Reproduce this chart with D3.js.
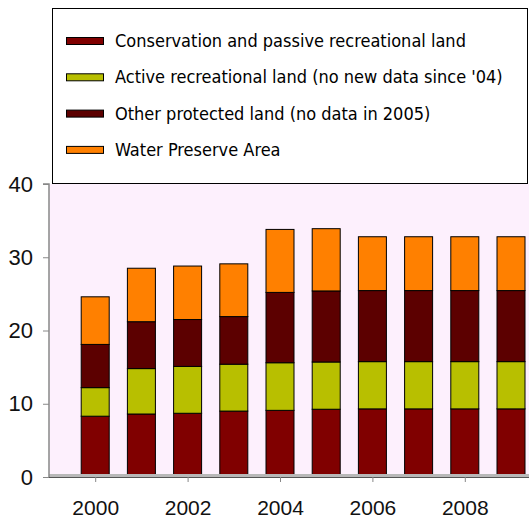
<!DOCTYPE html>
<html><head><meta charset="utf-8">
<script src="https://cdn.jsdelivr.net/npm/d3@7"></script>
<style>html,body{margin:0;padding:0;background:#fff}svg{display:block}</style>
</head><body>
<script>
const years = [2000,2001,2002,2003,2004,2005,2006,2007,2008,2009];
const conservation = [8.3,8.6,8.7,9.0,9.1,9.25,9.3,9.3,9.3,9.3];
const activeRec = [3.9,6.2,6.4,6.4,6.5,6.45,6.45,6.45,6.45,6.45];
const otherProtected = [5.9,6.4,6.4,6.5,9.6,9.7,9.7,9.7,9.7,9.7];
const waterPreserve = [6.5,7.3,7.3,7.2,8.6,8.5,7.35,7.35,7.35,7.35];
const seriesNames = ["Conservation and passive recreational land","Active recreational land (no new data since '04)","Other protected land (no data in 2005)","Water Preserve Area"];
const seriesColors = ["#800000","#b8bf00","#5c0000","#ff8000"];
const yTicks = [0,10,20,30,40];
const xTickYears = [2000,2002,2004,2006,2008];

const W=529,H=522;
const svg=d3.select("body").append("svg").attr("width",W).attr("height",H);
const plotL=49, plotR=529, plotT=184, plotB=477;
const y=d3.scaleLinear().domain([0,40]).range([plotB,plotT]);
const x=d3.scaleLinear().domain([1999,2009]).range([plotL,plotL+10*46.2]);
const barW=28;

svg.append("rect").attr("x",plotL).attr("y",plotT).attr("width",plotR-plotL).attr("height",plotB-plotT).attr("fill","#fdf0fd");

const table=years.map((yr,i)=>({year:yr,s0:conservation[i],s1:activeRec[i],s2:otherProtected[i],s3:waterPreserve[i]}));
const stack=d3.stack().keys(["s0","s1","s2","s3"])(table);
stack.forEach((layer,k)=>{
  svg.append("g").selectAll("rect").data(layer).join("rect")
    .attr("x",d=>x(d.data.year)-barW/2).attr("width",barW)
    .attr("y",d=>y(d[1])).attr("height",d=>y(d[0])-y(d[1]))
    .attr("fill",seriesColors[k]).attr("stroke","#000").attr("stroke-width",1);
});

// bottom axis
svg.append("rect").attr("x",plotL).attr("y",474).attr("width",plotR-plotL).attr("height",3).attr("fill","#b8b8b8");
svg.append("line").attr("x1",plotL).attr("x2",plotR).attr("y1",477.5).attr("y2",477.5).attr("stroke","#555").attr("stroke-width",1);
const xAxis=d3.axisBottom(x).tickValues(xTickYears).tickFormat(d3.format("d")).tickSize(5).tickPadding(18);
const gx=svg.append("g").attr("transform",`translate(0,${plotB})`).call(xAxis);
gx.select(".domain").remove();
gx.selectAll(".tick line").attr("stroke","#888");
gx.selectAll("text").attr("font-family","Liberation Sans, Arial, sans-serif").attr("font-size",21).attr("fill","#111");

// left axis
const yAxis=d3.axisLeft(y).tickValues(yTicks).tickSize(6).tickPadding(10);
const gy=svg.append("g").attr("transform",`translate(${plotL},0)`).call(yAxis);
gy.select(".domain").attr("stroke","#888").attr("stroke-width",1.5).attr("d",`M-6,${plotT}H0V${plotB}`);
gy.selectAll(".tick line").attr("stroke","#888");
gy.selectAll("text").attr("font-family","Liberation Sans, Arial, sans-serif").attr("font-size",22).attr("fill","#111");

// legend
const lg=svg.append("g");
lg.append("rect").attr("x",52.5).attr("y",8.5).attr("width",475).attr("height",175).attr("fill","#fff").attr("stroke","#000").attr("stroke-width",1);
const texts=[];
seriesNames.forEach((n,i)=>{
  const cy=41+i*36.3;
  lg.append("rect").attr("x",66.5).attr("y",cy-3.5).attr("width",37).attr("height",7).attr("fill",seriesColors[i]).attr("stroke","#000").attr("stroke-width",1);
  texts.push(lg.append("text").attr("x",115).attr("y",cy+6).text(n)
    .attr("font-family","DejaVu Sans Condensed, DejaVu Sans, sans-serif").attr("font-size",18).attr("fill","#000"));
});
// fit the longest legend entry to the box width
const longest=texts[1].node().getComputedTextLength();
const fs=Math.min(18, 18*392/longest);
texts.forEach(t=>t.attr("font-size",fs));
</script>
</body></html>
